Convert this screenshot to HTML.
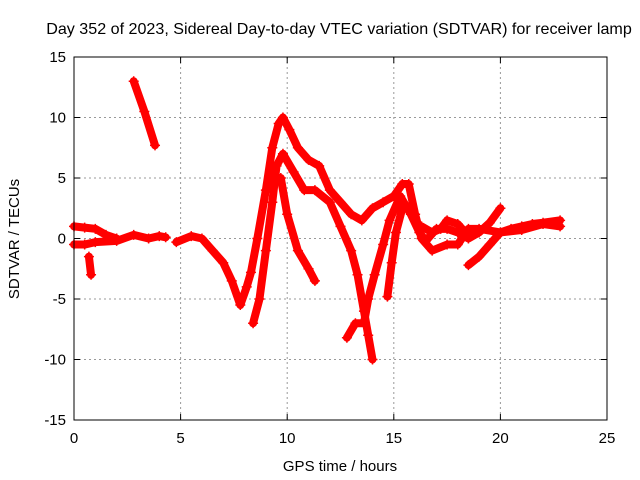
<!DOCTYPE html>
<html><head><meta charset="utf-8"><style>
body{margin:0;background:#fff}
svg{display:block;font-family:"Liberation Sans",sans-serif}
</style></head><body>
<svg id="chart" width="640" height="480">
<text x="339" y="34" font-size="16.1" text-anchor="middle">Day 352 of 2023, Sidereal Day-to-day VTEC variation (SDTVAR) for receiver lamp</text>
<text x="340" y="471" font-size="15" text-anchor="middle">GPS time / hours</text>
<text x="19" y="239" font-size="15" text-anchor="middle" transform="rotate(-90 19 239)">SDTVAR / TECUs</text>
<g id="grid"></g><g id="marks"></g>
<rect x="74" y="57" width="533" height="363" fill="none" stroke="#000"/>
</svg>
<script>
const xTicks=[0,5,10,15,20,25];
const yTicks=[-15,-10,-5,0,5,10,15];
const trackA=[[0,-0.5],[0.5,-0.5],[1,-0.3],[2,-0.2],[2.8,0.3],[3.5,0],[4,0.2],[4.3,0.1]];
const trackB=[[0,1],[0.5,0.9],[1,0.8],[1.5,0.3],[2,0]];
const trackC=[[0.7,-1.5],[0.8,-3]];
const trackD=[[2.8,13],[3.3,10.5],[3.8,7.7]];
const trackE=[[4.8,-0.3],[5.5,0.2],[6,0],[6.5,-1],[7,-2],[7.4,-3.5],[7.8,-5.5],[8.1,-4],[8.3,-2.8],[8.6,0],[9,4],[9.3,7.5],[9.6,9.5],[9.8,10],[10.1,9],[10.5,7.5],[11,6.5],[11.5,6],[12,4],[12.5,3],[13,2],[13.5,1.5],[14,2.5],[14.5,3],[15,3.5],[15.4,4.5],[15.7,4.5],[16,2],[16.3,0],[16.8,-1],[17.5,-0.5],[18,-0.5],[18.5,0.8],[19,0.8],[20,0.5],[21,0.7],[22,1.2],[22.8,1]];
const trackF=[[8.4,-7],[8.7,-5],[9,-1],[9.3,3],[9.5,6],[9.8,7],[10.3,5.5],[10.8,4],[11.3,4],[12,3],[12.5,1],[13,-1],[13.3,-3],[13.6,-6],[13.8,-8],[14,-10]];
const trackG=[[9.3,5],[9.7,5],[10,2],[10.5,-1],[11,-2.5],[11.3,-3.5]];
const trackH=[[12.8,-8.2],[13.2,-7],[13.6,-7],[13.8,-5],[14.1,-3],[14.5,-0.5],[14.8,1.5],[15.3,3.5],[15.8,2],[16.2,0.5],[16.5,-0.2],[17,0.8],[17.5,0.8],[18,0.5],[18.5,0],[19,0.5],[19.5,1.3],[20,2.5]];
const trackI=[[14.7,-4.8],[14.9,-2],[15.1,0.5],[15.4,2.5]];
const trackJ=[[18.5,-2.2],[19,-1.5],[19.5,-0.5],[20,0.5],[20.5,0.8],[21,1],[21.5,1.2],[22,1.3],[22.8,1.5]];
const trackK=[[16.3,1],[16.8,0.5],[17.2,0.8],[17.5,1.5],[18,1.2],[18.5,0.2]];
const tracks=[trackA,trackB,trackC,trackD,trackE,trackF,trackG,trackH,trackI,trackJ,trackK];
const X0=74,X1=607,Y0=420,Y1=57;
const sx=v=>X0+(v-0)/25*(X1-X0);
const sy=v=>Y0-(v+15)/30*(Y0-Y1);
const NS="http://www.w3.org/2000/svg";
const grid=document.getElementById('grid'),marks=document.getElementById('marks');
function mk(tag,attrs,parent){const e=document.createElementNS(NS,tag);for(const k in attrs)e.setAttribute(k,attrs[k]);parent.appendChild(e);return e;}
xTicks.forEach(t=>{
  const x=sx(t);
  if(t>0&&t<25){const g=mk('line',{x1:x,x2:x,y1:Y1,y2:Y0,stroke:'#999','stroke-dasharray':'2,3'},grid);
  
  }
  mk('line',{x1:x,x2:x,y1:Y0,y2:Y0-6,stroke:'#000'},grid);
  mk('line',{x1:x,x2:x,y1:Y1,y2:Y1+6,stroke:'#000'},grid);
  const l=mk('text',{x:x,y:Y0+23,'font-size':15,'text-anchor':'middle'},grid);l.textContent=t;
  
  
});
yTicks.forEach(t=>{
  const y=sy(t);
  if(t>-15&&t<15){const g=mk('line',{x1:X0,x2:X1,y1:y,y2:y,stroke:'#999','stroke-dasharray':'2,3'},grid);
  
  }
  mk('line',{x1:X0,x2:X0+6,y1:y,y2:y,stroke:'#000'},grid);
  mk('line',{x1:X1,x2:X1-6,y1:y,y2:y,stroke:'#000'},grid);
  const l=mk('text',{x:X0-8,y:y+5,'font-size':15,'text-anchor':'end'},grid);l.textContent=t;
  
  
});
tracks.forEach(tr=>{
  const p=mk('polyline',{points:tr.map(d=>sx(d[0])+','+sy(d[1])).join(' '),fill:'none',stroke:'#f00','stroke-width':8,'stroke-linejoin':'round','stroke-linecap':'round'},marks);
  
  
  tr.forEach(d=>{
    const m=mk('path',{d:`M${sx(d[0])-5},${sy(d[1])}h10M${sx(d[0])},${sy(d[1])-5}v10`,stroke:'#f00','stroke-width':1.5},marks);
    
    
  });
});
</script>
</body></html>
